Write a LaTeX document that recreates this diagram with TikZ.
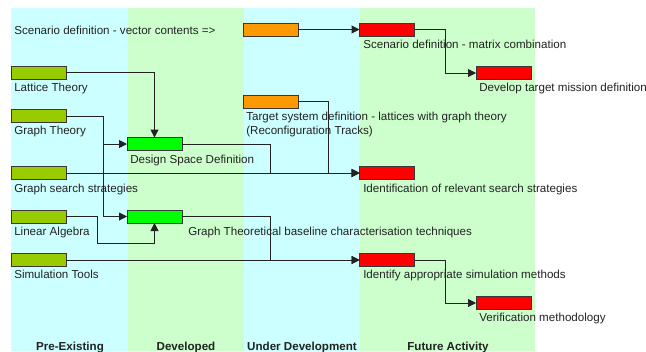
\documentclass[tikz,border=0pt]{standalone}
\usepackage{fontspec}
\setmainfont{Liberation Sans}
\usetikzlibrary{arrows.meta,calc}
\definecolor{bgcyan}{HTML}{CCFFFF}
\definecolor{bggreen}{HTML}{CCFFCC}
\definecolor{olivebox}{HTML}{99CC00}
\definecolor{greenbox}{HTML}{00FF00}
\definecolor{orangebox}{HTML}{FF9900}
\definecolor{redbox}{HTML}{FF0000}
\definecolor{ink}{HTML}{222222}
\begin{document}
\begin{tikzpicture}[x=0.75pt,y=-0.75pt,
  font=\fontsize{8.7pt}{10.5pt}\selectfont,
  box/.style={draw=ink!90,line width=0.75pt,rectangle,minimum width=41.25pt,minimum height=9.75pt,inner sep=0pt,outer sep=0pt},
  lbl/.style={anchor=base west,inner sep=0pt,text=ink},
  head/.style={anchor=base,inner sep=0pt,text=ink,font=\fontsize{8.7pt}{10.5pt}\selectfont\bfseries},
  conn/.style={draw=ink,line width=0.75pt,-{Triangle[length=6pt,width=6pt]}},
  plain/.style={draw=ink,line width=0.75pt}]
\useasboundingbox (0,0) rectangle (646,351);
% background columns
\fill[bgcyan] (11,8) rectangle (128,351);
\fill[bggreen] (128,8) rectangle (244,351);
\fill[bgcyan] (244,8) rectangle (359.5,351);
\fill[bggreen] (359.5,8) rectangle (535,351);

% boxes
\node[box,fill=orangebox] (o1) at (270.5,29.5) {};
\node[box,fill=redbox] (r1) at (387,29.5) {};
\node[box,fill=redbox] (r2) at (503.5,73) {};
\node[box,fill=olivebox] (lat) at (38.5,72.5) {};
\node[box,fill=olivebox] (gt) at (38.5,116) {};
\node[box,fill=greenbox] (ds) at (154.5,144) {};
\node[box,fill=olivebox] (gs) at (38.5,173) {};
\node[box,fill=orangebox] (o2) at (270.5,101.5) {};
\node[box,fill=redbox] (r3) at (387,173) {};
\node[box,fill=olivebox] (la) at (38.5,216.5) {};
\node[box,fill=greenbox] (gtb) at (154.5,216.5) {};
\node[box,fill=olivebox] (st) at (38.5,260) {};
\node[box,fill=redbox] (r4) at (387,260) {};
\node[box,fill=redbox] (r5) at (503.5,303) {};

% labels
\node[lbl] (t0) at (14,34) {Scenario definition - vector contents =>};
\node[lbl] (t1) at (363,48) {Scenario definition - matrix combination};
\node[lbl] (t2) at (479,91) {Develop target mission definition};
\node[lbl] (t3) at (14,91) {Lattice Theory};
\node[lbl] (t4) at (14,134) {Graph Theory};
\node[lbl] (t5) at (130,163) {Design Space Definition};
\node[lbl] (t6a) at (246,120) {Target system definition - lattices with graph theory};
\node[lbl] (t6b) at (246,134) {(Reconfiguration Tracks)};
\node[lbl] (t7) at (14,192) {Graph search strategies};
\node[lbl] (t8) at (363,192) {Identification of relevant search strategies};
\node[lbl] (t9) at (14,235) {Linear Algebra};
\node[lbl] (t10) at (188,235) {Graph Theoretical baseline characterisation techniques};
\node[lbl] (t11) at (14,278) {Simulation Tools};
\node[lbl] (t12) at (363,278) {Identify appropriate simulation methods};
\node[lbl] (t13) at (479,321) {Verification methodology};
\node[head] (h1) at (70,350) {Pre-Existing};
\node[head] (h2) at (186,350) {Developed};
\node[head] (h3) at (302,350) {Under Development};
\node[head] (h4) at (448,350) {Future Activity};

% connectors
\draw[conn] (o1.east) -- (r1.west);
\draw[conn] (r1.east) -- ++(30.5,0) |- (r2.west);
\draw[conn] (lat.east) -| (ds.north);
\draw[conn] (gt.east) -- ++(37,0) |- (ds.west);
\draw[conn] (gt.east) -- ++(37,0) |- (gtb.west);
\draw[conn] (ds.east) -- ++(88,0) |- (r3.west);
\draw[conn] (gs.east) -- (r3.west);
\draw[conn] (o2.east) -- ++(30,0) |- (r3.west);
\draw[conn] (la.east) -- ++(31,0) -- ++(0,26.5) -| (gtb.south);
\draw[conn] (gtb.east) -- ++(88,0) |- (r4.west);
\draw[conn] (st.east) -- (r4.west);
\draw[conn] (r4.east) -- ++(30.5,0) |- (r5.west);
\end{tikzpicture}
\end{document}
